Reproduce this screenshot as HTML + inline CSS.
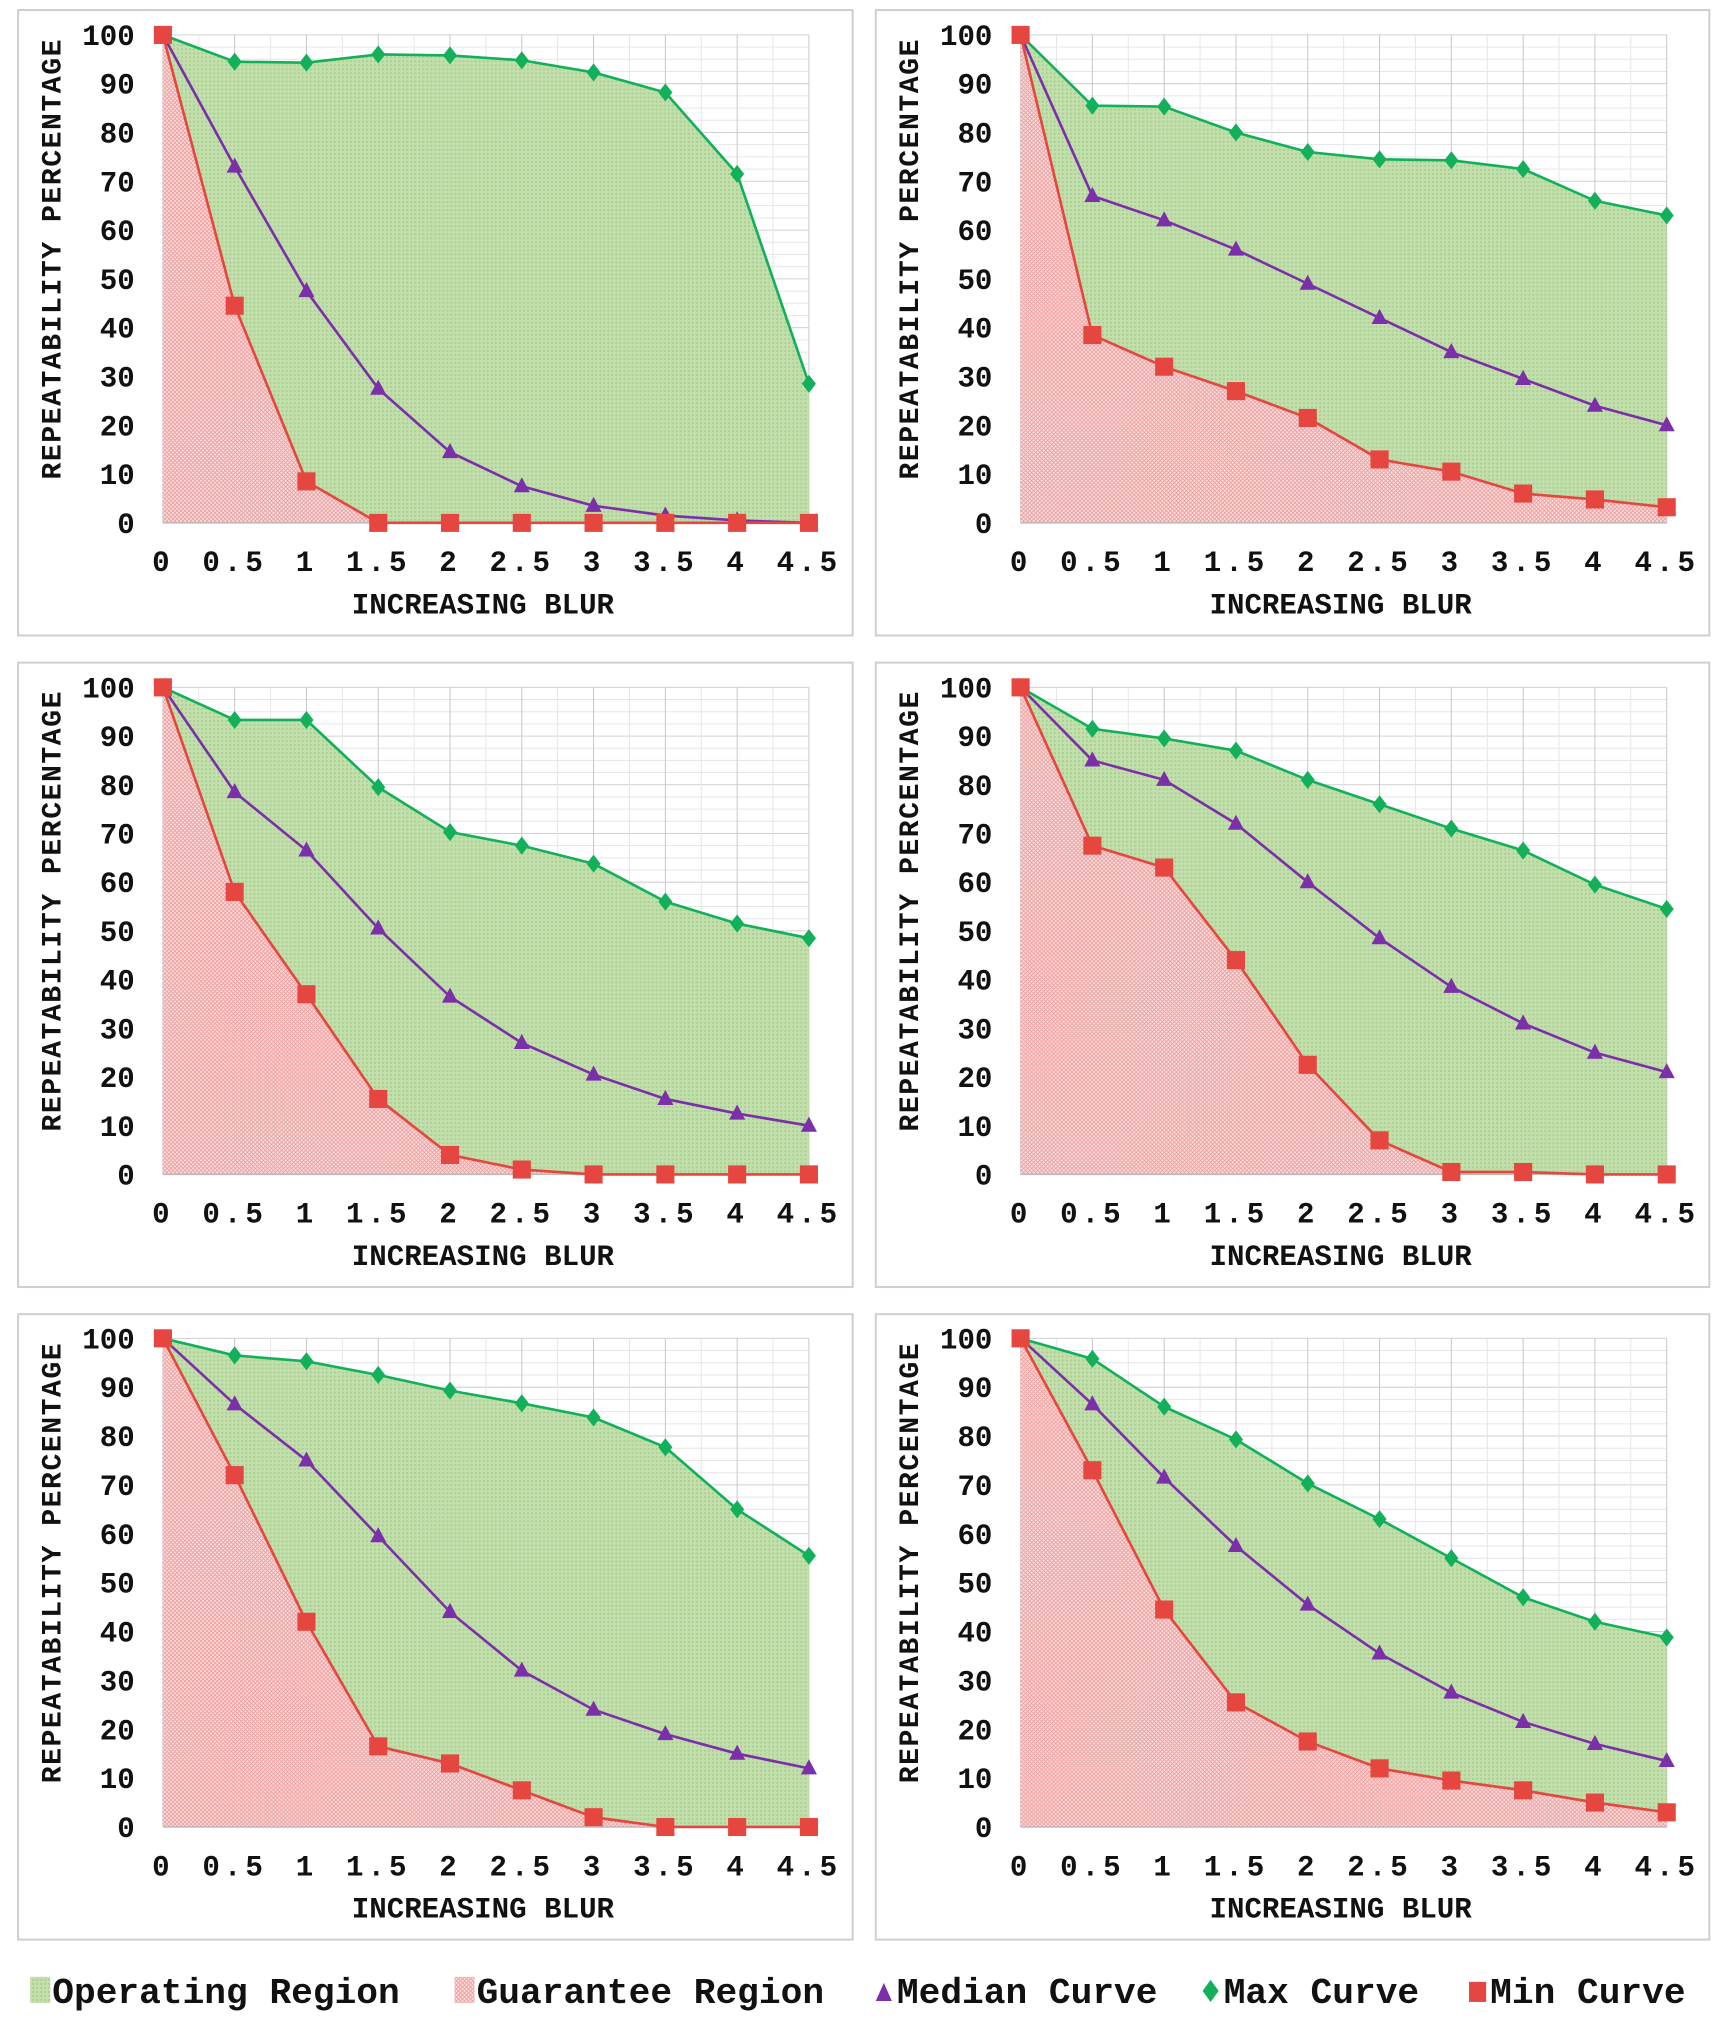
<!DOCTYPE html>
<html><head><meta charset="utf-8"><style>
html,body{margin:0;padding:0;background:#fff;}
svg{display:block;}
text{font-family:"Liberation Mono",monospace;font-weight:bold;fill:#111;}
</style></head><body>
<svg id="c" width="1722" height="2026" viewBox="0 0 1722 2026" xmlns="http://www.w3.org/2000/svg">
<defs>
<pattern id="pg" width="4" height="4" patternUnits="userSpaceOnUse"><rect width="4" height="4" fill="#c3dfae"/><rect width="2" height="2" fill="#a9d08e"/></pattern>
<pattern id="pr" width="4" height="4" patternUnits="userSpaceOnUse"><rect width="4" height="4" fill="#fbdede"/><path d="M0 0L4 4M4 0L0 4" stroke="#ee9a9a" stroke-width="0.8"/></pattern>
</defs>
<g id="root" transform="scale(1.0055)"></g>
</svg>
<script>
const categories = [0,0.5,1,1.5,2,2.5,3,3.5,4,4.5];
const yTicks = [0,10,20,30,40,50,60,70,80,90,100];
const xTickLabels = ["0","0.5","1","1.5","2","2.5","3","3.5","4","4.5"];
const max1 = [100,94.5,94.3,96,95.8,94.8,92.3,88.2,71.5,28.5];
const med1 = [100,73,47.5,27.5,14.5,7.5,3.5,1.5,0.5,0];
const min1 = [100,44.5,8.5,0,0,0,0,0,0,0];
const max2 = [100,85.5,85.3,80,76,74.5,74.3,72.5,66,63];
const med2 = [100,67,62,56,49,42,35,29.5,24,20];
const min2 = [100,38.5,32,27,21.5,13,10.5,6,4.8,3.2];
const max3 = [100,93.3,93.3,79.5,70.3,67.5,63.8,56,51.5,48.5];
const med3 = [100,78.5,66.5,50.5,36.5,27,20.5,15.5,12.5,10];
const min3 = [100,58,37,15.5,4,1,0,0,0,0];
const max4 = [100,91.5,89.5,87,81,76,71,66.5,59.5,54.5];
const med4 = [100,85,81,72,60,48.5,38.5,31,25,21];
const min4 = [100,67.5,63,44,22.5,7,0.5,0.5,0,0];
const max5 = [100,96.5,95.3,92.5,89.3,86.7,83.8,77.7,65,55.5];
const med5 = [100,86.5,75,59.5,44,32,24,19,15,12];
const min5 = [100,72,42,16.5,13,7.5,2,0,0,0];
const max6 = [100,95.8,86,79.3,70.3,63,55,47,42,38.8];
const med6 = [100,86.5,71.5,57.5,45.5,35.5,27.5,21.5,17,13.5];
const min6 = [100,73,44.5,25.5,17.5,12,9.5,7.5,5,3];
const legendLabels = ["Operating Region","Guarantee Region","Median Curve","Max Curve","Min Curve"];

const NS="http://www.w3.org/2000/svg";
const svg=document.getElementById('root');
function mk(tag,attrs,parent){const e=document.createElementNS(NS,tag);for(const k in attrs)e.setAttribute(k,attrs[k]);(parent||svg).appendChild(e);return e;}

const panels=[
 {bx:18,by:10,bw:830,bh:622,x0:162,x1:804.5,yt:34.7,yb:520,max:max1,med:med1,min:min1},
 {bx:871,by:10,bw:829,bh:622,x0:1015,x1:1657.6,yt:34.7,yb:520,max:max2,med:med2,min:min2},
 {bx:18,by:659,bw:830,bh:621,x0:162,x1:804.5,yt:683.6,yb:1168,max:max3,med:med3,min:min3},
 {bx:871,by:659,bw:829,bh:621,x0:1015,x1:1657.6,yt:683.6,yb:1168,max:max4,med:med4,min:min4},
 {bx:18,by:1307,bw:830,bh:622,x0:162,x1:804.5,yt:1331,yb:1817,max:max5,med:med5,min:min5},
 {bx:871,by:1307,bw:829,bh:622,x0:1015,x1:1657.6,yt:1331,yb:1817,max:max6,med:med6,min:min6}
];

panels.forEach((p,i)=>{
 const g=mk('g',{});
 
 
 const xs=v=>p.x0+(v/4.5)*(p.x1-p.x0);
 const ys=v=>p.yb-(v/100)*(p.yb-p.yt);
 const box=mk('rect',{x:p.bx,y:p.by,width:p.bw,height:p.bh,fill:'#fff',stroke:'#cfcfcf','stroke-width':2},g);
 
 
 for(let v=0;v<=100;v+=2.5){mk('line',{x1:p.x0,x2:p.x1,y1:ys(v),y2:ys(v),stroke:v%10===0?'#d0d0d0':'#e6e6e6','stroke-width':1},g);}
 for(let v=0;v<=4.5001;v+=0.25){mk('line',{x1:xs(v),x2:xs(v),y1:p.yt,y2:p.yb,stroke:(v*2)%1===0?'#c8c8c8':'#e6e6e6','stroke-width':1},g);}
 let d='M'+categories.map((c,k)=>xs(c)+','+ys(p.max[k])).join(' L');
 for(let k=categories.length-1;k>=0;k--)d+=' L'+xs(categories[k])+','+ys(p.min[k]);
 const op=mk('path',{d:d+'Z',fill:'url(#pg)'},g);
 
 
 let d2='M'+xs(0)+','+ys(0)+' L'+categories.map((c,k)=>xs(c)+','+ys(p.min[k])).join(' L')+' L'+xs(4.5)+','+ys(0)+'Z';
 const gr=mk('path',{d:d2,fill:'url(#pr)'},g);
 
 
 mk('line',{x1:p.x0,x2:p.x1,y1:ys(0),y2:ys(0),stroke:'#bbb','stroke-width':1.5},g);
 const series=[[p.max,'#12b05a','max'],[p.med,'#7b2fa8','median'],[p.min,'#e5463f','min']];
 series.forEach(([arr,col,nm])=>{
  const l=mk('polyline',{points:categories.map((c,k)=>xs(c)+','+ys(arr[k])).join(' '),fill:'none',stroke:col,'stroke-width':2.6},g);
  
  
 });
 categories.forEach((c,k)=>{
  const x=xs(c);
  let y=ys(p.max[k]);
  const dm=mk('path',{d:`M${x},${y-9} L${x+7},${y} L${x},${y+9} L${x-7},${y}Z`,fill:'#12b05a'},g);
  
  
  y=ys(p.med[k]);
  const tr=mk('path',{d:`M${x},${y-9} L${x+8},${y+6} L${x-8},${y+6}Z`,fill:'#7b2fa8'},g);
  
  
  y=ys(p.min[k]);
  const sq=mk('rect',{x:x-9,y:y-9,width:18,height:18,fill:'#e5463f'},g);
  
  
 });
 yTicks.forEach(v=>{
  const t=mk('text',{x:p.x0-28,y:ys(v)+10,'text-anchor':'end','font-size':29},g);
  t.textContent=v;
  
  
 });
 xTickLabels.forEach((lab,k)=>{
  const t=mk('text',{x:xs(categories[k]),y:p.yb+48,'text-anchor':'middle','font-size':29,'letter-spacing':4},g);
  t.textContent=lab;
  
  
 });
 const xt=mk('text',{x:(p.x0+p.x1)/2-3,y:p.yb+90,'text-anchor':'middle','font-size':29},g);
 xt.textContent='INCREASING BLUR';
 
 
 const yc=(p.yt+p.yb)/2-20;
 const yx=p.bx+42;
 const yt=mk('text',{x:yx,y:yc,'text-anchor':'middle','font-size':28,'letter-spacing':1.5,transform:`rotate(-90 ${yx} ${yc})`},g);
 yt.textContent='REPEATABILITY PERCENTAGE';
 
 
});

const lg=mk('g',{});


const lx=[30,452,870,1195,1460];
const ly=1980;
legendLabels.forEach((lab,i)=>{
 const e=mk('g',{},lg);
 
 
 const x=lx[i];
 if(i===0)mk('rect',{x:x,y:ly-14,width:20,height:26,fill:'url(#pg)'},e);
 else if(i===1)mk('rect',{x:x,y:ly-14,width:20,height:26,fill:'url(#pr)'},e);
 else if(i===2)mk('path',{d:`M${x+9},${ly-8} L${x+17},${ly+10} L${x+1},${ly+10}Z`,fill:'#7b2fa8'},e);
 else if(i===3)mk('path',{d:`M${x+9},${ly-11} L${x+17},${ly} L${x+9},${ly+11} L${x+1},${ly}Z`,fill:'#12b05a'},e);
 else mk('rect',{x:x+1,y:ly-9,width:17,height:20,fill:'#e5463f'},e);
 const t=mk('text',{x:x+22,y:ly+12,'font-size':36},e);
 t.textContent=lab;
});
</script>
</body></html>
